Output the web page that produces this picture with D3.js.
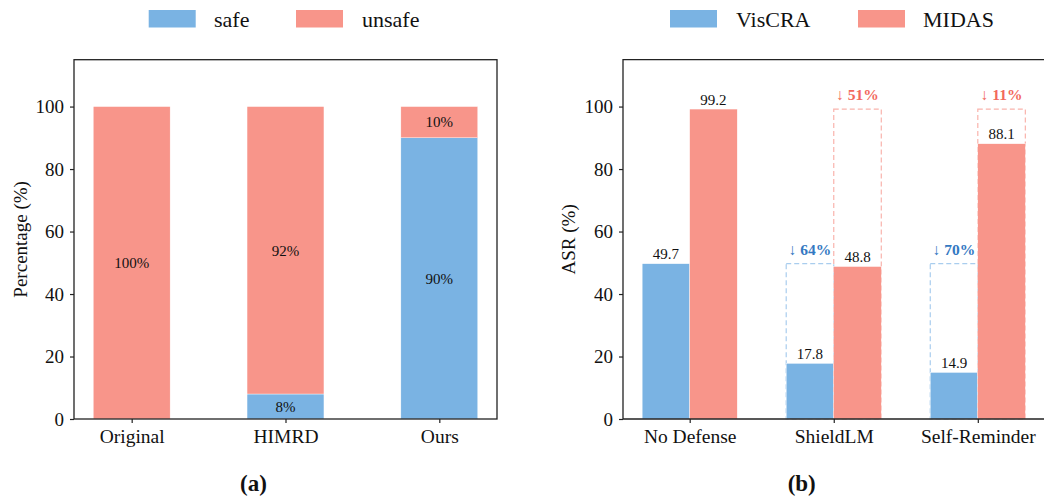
<!DOCTYPE html>
<html><head><meta charset="utf-8">
<script src="https://cdn.jsdelivr.net/npm/d3@7"></script>
<style>body{margin:0;background:#fff}svg{display:block;font-family:"Liberation Serif","Times New Roman","DejaVu Serif",serif}</style>
</head><body>
<svg id="c" width="1044" height="500"></svg>
<script>
// ---- data ----
const leftCategories = ["Original", "HIMRD", "Ours"];
const safeValues = [0, 8, 90];
const unsafeValues = [100, 92, 10];
const leftLegend = ["safe", "unsafe"];

const rightCategories = ["No Defense", "ShieldLM", "Self-Reminder"];
const viscraValues = [49.7, 17.8, 14.9];
const midasValues = [99.2, 48.8, 88.1];
const rightLegend = ["VisCRA", "MIDAS"];

const yTicks = [0, 20, 40, 60, 80, 100];

const BLUE = "#7ab3e3", RED = "#f8958a";
const BLUE_D = "#a9cdee", RED_D = "#f9b3ac";
const BLUE_T = "#3479c2", RED_T = "#f2695d";
const FONT = '"Liberation Serif","Times New Roman","DejaVu Serif",serif';

const svg = d3.select("#c");
const yTop = 59.7, yBottom = 419;
const y = d3.scaleLinear().domain([0, 115]).range([yBottom, yTop]);

function yAxis(g, x0) {
  const ax = d3.axisLeft(y).tickValues(yTicks).tickSize(4).tickPadding(6).tickFormat(d3.format("d"));
  const gg = g.append("g").attr("transform", `translate(${x0},0)`).call(ax);
  gg.attr("font-family", FONT);
  gg.select(".domain").remove();
  gg.selectAll("line").attr("stroke", "#222").attr("stroke-width", 1.2);
  gg.selectAll("text").attr("font-size", 19).attr("fill", "#111");
}
function xAxis(g, x, cats) {
  const ax = d3.axisBottom(x).tickValues(d3.range(cats.length)).tickSize(4).tickPadding(6).tickFormat(i => cats[i]);
  const gg = g.append("g").attr("transform", `translate(0,${yBottom})`).call(ax);
  gg.attr("font-family", FONT);
  gg.select(".domain").remove();
  gg.selectAll("line").attr("stroke", "#222").attr("stroke-width", 1.2);
  gg.selectAll("text").attr("font-size", 19.5).attr("fill", "#111");
}
function legend(g, items, colors, px, tx) {
  items.forEach((t, i) => {
    g.append("rect").attr("x", px[i]).attr("y", 10).attr("width", 47).attr("height", 17.5).attr("fill", colors[i]);
    g.append("text").attr("x", tx[i]).attr("y", 27).attr("font-size", 22).attr("fill", "#111").text(t);
  });
}

// ---- left chart ----
const L = svg.append("g");
const xl = d3.scaleLinear().domain([-0.375, 2.375]).range([74, 497]);
const wl = 0.5;
leftCategories.forEach((c, i) => {
  const x0 = xl(i - wl / 2), bw = xl(i + wl / 2) - xl(i - wl / 2);
  if (safeValues[i] > 0)
    L.append("rect").attr("x", x0).attr("y", y(safeValues[i])).attr("width", bw).attr("height", y(0) - y(safeValues[i]))
      .attr("fill", BLUE).attr("stroke", "#fff").attr("stroke-width", 0.4);
  L.append("rect").attr("x", x0).attr("y", y(safeValues[i] + unsafeValues[i])).attr("width", bw)
    .attr("height", y(safeValues[i]) - y(safeValues[i] + unsafeValues[i]))
    .attr("fill", RED).attr("stroke", "#fff").attr("stroke-width", 0.4);
  if (safeValues[i] > 0)
    L.append("text").attr("x", xl(i)).attr("y", y(safeValues[i] / 2)).attr("dy", "0.35em").attr("text-anchor", "middle")
      .attr("font-size", 15).attr("fill", "#111").text(safeValues[i] + "%");
  L.append("text").attr("x", xl(i)).attr("y", y(safeValues[i] + unsafeValues[i] / 2)).attr("dy", "0.35em").attr("text-anchor", "middle")
    .attr("font-size", 15).attr("fill", "#111").text(unsafeValues[i] + "%");
});
L.append("rect").attr("x", 74).attr("y", yTop).attr("width", 497 - 74).attr("height", yBottom - yTop)
  .attr("fill", "none").attr("stroke", "#222").attr("stroke-width", 1.3);
yAxis(L, 74);
xAxis(L, xl, leftCategories);
L.append("text").attr("transform", `translate(20,${(yTop + yBottom) / 2}) rotate(-90)`).attr("text-anchor", "middle")
  .attr("dy", "0.35em").attr("font-size", 19).attr("fill", "#111").text("Percentage (%)");
legend(L, leftLegend, [BLUE, RED], [148.7, 296], [214, 362]);
L.append("text").attr("x", 253.5).attr("y", 491).attr("text-anchor", "middle").attr("font-size", 23)
  .attr("font-weight", "bold").attr("fill", "#111").text("(a)");

// ---- right chart ----
const R = svg.append("g");
const xr = d3.scaleLinear().domain([-0.463, 2.463]).range([623, 1044.5]);
const wr = 0.33;
const series = [
  {vals: viscraValues, color: BLUE, dash: BLUE_D, tcol: BLUE_T, off: -1},
  {vals: midasValues, color: RED, dash: RED_D, tcol: RED_T, off: 0}
];
rightCategories.forEach((c, i) => {
  series.forEach(s => {
    const x0 = xr(i + s.off * wr), x1 = xr(i + (s.off + 1) * wr), bw = x1 - x0;
    const v = s.vals[i], base = s.vals[0];
    if (i > 0) {
      R.append("rect").attr("x", x0).attr("y", y(base)).attr("width", bw).attr("height", y(0) - y(base))
        .attr("fill", "none").attr("stroke", s.dash).attr("stroke-width", 1.2).attr("stroke-dasharray", "5,3");
      const red = Math.round((1 - v / base) * 100);
      R.append("text").attr("x", (x0 + x1) / 2).attr("y", y(base) - 9).attr("text-anchor", "middle")
        .attr("font-size", 15.5).attr("font-weight", "bold").attr("fill", s.tcol).text("↓ " + red + "%");
    }
    R.append("rect").attr("x", x0).attr("y", y(v)).attr("width", bw).attr("height", y(0) - y(v))
      .attr("fill", s.color).attr("stroke", "#fff").attr("stroke-width", 0.4);
    R.append("text").attr("x", (x0 + x1) / 2).attr("y", y(v) - 4.5).attr("text-anchor", "middle")
      .attr("font-size", 15).attr("fill", "#111").text(v.toFixed(1));
  });
});
R.append("path").attr("d", `M1045,${yTop}H623V${yBottom}H1045`).attr("fill", "none").attr("stroke", "#222").attr("stroke-width", 1.3);
yAxis(R, 623);
xAxis(R, xr, rightCategories);
R.append("text").attr("transform", `translate(568,${(yTop + yBottom) / 2}) rotate(-90)`).attr("text-anchor", "middle")
  .attr("dy", "0.35em").attr("font-size", 19).attr("fill", "#111").text("ASR (%)");
legend(R, rightLegend, [BLUE, RED], [670, 858], [736, 923]);
R.append("text").attr("x", 801.7).attr("y", 491).attr("text-anchor", "middle").attr("font-size", 23)
  .attr("font-weight", "bold").attr("fill", "#111").text("(b)");
</script>
</body></html>
